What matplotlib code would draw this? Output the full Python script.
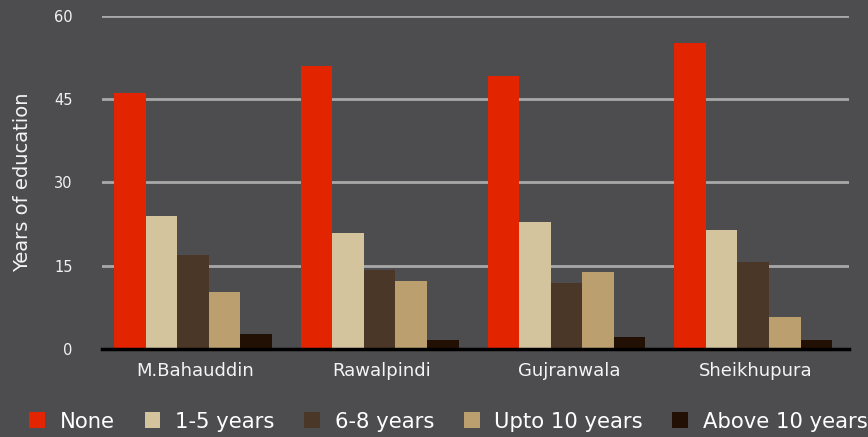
import matplotlib
matplotlib.use("Agg")
import matplotlib.pyplot as plt
import numpy as np

categories = ["M.Bahauddin", "Rawalpindi", "Gujranwala", "Sheikhupura"]
series_names = ["None", "1-5 years", "6-8 years", "Upto 10 years", "Above 10 years"]
none_vals = [46.0, 51.0, 49.2, 55.0]
y1_5_vals = [24.0, 20.8, 22.8, 21.4]
y6_8_vals = [16.9, 14.3, 11.9, 15.7]
upto10_vals = [10.3, 12.3, 13.9, 5.8]
above10_vals = [2.7, 1.7, 2.2, 1.6]
y_ticks = [0, 15, 30, 45, 60]

colors = ["#e22400", "#d3c49d", "#4a3728", "#bc9f6f", "#231005"]
bg = "#4d4d4f"

plt.rcParams['font.family'] = ['DejaVu Sans']

fig = plt.figure(figsize=(8.68, 4.37), dpi=100, facecolor=bg)
ax = fig.add_axes([102/868, 88/437, 747/868, (349-15.7)/437])
ax.set_facecolor(bg)

series = [none_vals, y1_5_vals, y6_8_vals, upto10_vals, above10_vals]
x = np.arange(len(categories))
w = 0.169
for i, (vals, name, c) in enumerate(zip(series, series_names, colors)):
    ax.bar(x + (i - 2) * w - 0.013, vals, w, color=c, label=name, zorder=3, linewidth=0)

ax.set_xlim(-0.5, 3.5)
ax.set_ylim(0, 60)
ax.set_yticks(y_ticks)
ax.set_yticklabels([str(t) for t in y_ticks])
ax.grid(axis='y', color='#a8a8a8', linewidth=2.0, zorder=0)
ax.set_axisbelow(True)
for s in ['top', 'right', 'left']:
    ax.spines[s].set_visible(False)
ax.spines['bottom'].set_color('black')
ax.spines['bottom'].set_linewidth(2.5)
ax.spines['bottom'].set_zorder(4)
ax.tick_params(axis='y', length=0, pad=21, labelsize=10.5, labelcolor='#f2f2f2')
ax.set_xticks(x)
ax.set_xticklabels(categories)
ax.tick_params(axis='x', length=0, pad=9, labelsize=13, labelcolor='#f4f4f4')
ax.set_ylabel("Years of education", fontsize=14, color='#f4f4f4')
ax.yaxis.set_label_coords(-0.094, 0.5)

leg = fig.legend(loc='lower left', bbox_to_anchor=(21/868, -3/437), ncol=5, frameon=False,
                 fontsize=15.2, labelcolor='white', handlelength=0.75, handleheight=0.75,
                 handletextpad=0.7, columnspacing=1.4, borderaxespad=0)

fig.savefig("out.png", dpi=100, facecolor=bg)
